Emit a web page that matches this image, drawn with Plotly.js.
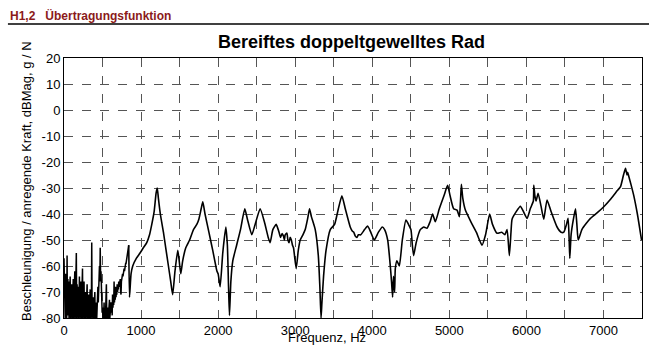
<!DOCTYPE html>
<html>
<head>
<meta charset="utf-8">
<script src="https://cdn.plot.ly/plotly-3.0.1.min.js"></script>
<style>html,body{margin:0;padding:0;background:#fff;}#chart{width:649px;height:345px;}</style>
</head>
<body>
<div id="chart"></div>
<script>
// Low-frequency noisy part (Hz, dB)
const freqLow = [0,5,10,15,20,25,30,35,40,45,50,55,60,65,70,75,80,85,90,95,100,105,110,115,120,125,130,135,140,145,150,155,160,165,170,175,180,185,190,195,200,205,210,215,220,225,230,235,240,245,250,255,260,265,270,275,280,285,290,295,300,305,310,315,320,325,330,335,340,345,350,355,360,365,370,375,380,385,390,395,400,405,410,415,420,425,430,435,440,445,450,455,460,465,470,475,480,485,490,495,500,505,510,515,520,525,530,535,540,545,550,555,560,565,570,575,580,585,590,595,600,605,610,615,620,625,630,635,640,645,650,655,660,665,670,675,680,685,690,695,700,705,710,715,720,725,730,735,740,745,750,755,760,765,770,775,780,785,790,795,800,805,810,815,820,825,830,835,840];
const magLow = [-57,-74,-66,-80,-63,-77,-68,-80,-56,-79,-65,-78,-66,-80,-69,-77,-64,-80,-70,-76,-67,-80,-68,-78,-65,-80,-71,-77,-62,-80,-69,-78,-55,-80,-67,-76,-68,-80,-70,-77,-64,-80,-69,-78,-66,-80,-71,-77,-61,-80,-68,-79,-66,-80,-72,-77,-70,-80,-68,-78,-67,-80,-72,-76,-71,-80,-70,-78,-69,-80,-73,-78,-51,-80,-72,-79,-72,-80,-74,-77,-70,-80,-75,-79,-74,-80,-72,-78,-68,-74,-63,-70,-60,-66,-53,-64,-62,-68,-70,-78,-76,-80,-78,-80,-74,-80,-77,-80,-78,-72,-67,-80,-77,-80,-76,-80,-78,-74,-73,-80,-76,-79,-74,-78,-75,-79,-71,-76,-73,-75,-66,-74,-71,-73,-68,-72,-69,-71,-67,-70,-68,-69,-66,-68,-67,-66,-65,-70,-71,-66,-64,-65,-63,-64,-62,-63,-61,-62,-60,-60,-59,-59,-58,-57,-56,-55,-54,-53,-52];
// Resonance part (Hz, dB)
const freqHigh = [840,850,870,892,940,987,1030,1074,1110,1139,1170,1195,1210,1225,1250,1290,1320,1355,1385,1410,1440,1476,1495,1515,1540,1580,1630,1680,1723,1750,1780,1801,1830,1880,1930,1970,1985,2000,2026,2060,2100,2120,2135,2147,2165,2190,2240,2290,2346,2380,2437,2480,2545,2600,2650,2675,2710,2753,2790,2810,2830,2848,2860,2870,2892,2905,2920,2935,2950,2965,2978,3013,3040,3065,3100,3130,3160,3186,3210,3260,3300,3320,3335,3345,3368,3400,3455,3511,3560,3606,3650,3714,3740,3760,3780,3801,3820,3850,3900,3940,3980,4026,4080,4130,4160,4200,4234,4250,4264,4275,4290,4299,4320,4351,4390,4437,4470,4502,4520,4537,4570,4623,4670,4710,4750,4783,4818,4870,4930,4978,5010,5056,5100,5130,5145,5156,5175,5208,5280,5350,5424,5470,5523,5560,5619,5680,5720,5749,5779,5800,5814,5870,5922,5960,6009,6050,6090,6096,6110,6126,6152,6190,6225,6268,6320,6398,6450,6485,6520,6541,6555,6563,6580,6610,6637,6655,6672,6720,6780,6831,6920,7004,7100,7180,7221,7260,7286,7305,7315,7329,7360,7394,7440,7494];
const magHigh = [-52,-72,-63,-60,-57,-55,-53,-51,-48,-44,-39,-32,-30,-34,-40,-47,-53,-60,-66,-71,-62,-54,-58,-63,-58,-53,-50,-46,-44,-42,-38,-35.3,-40,-47,-54,-60,-62,-63,-68,-55,-45,-52,-68,-79,-66,-58,-52,-46,-38,-42,-48,-44,-38,-43,-49,-51,-46,-44,-47,-49,-47.5,-48.5,-50,-48,-47.3,-50,-51,-49,-50,-52,-53,-61,-54,-50,-48,-46,-42,-38,-41,-46,-56,-68,-80,-75,-64,-54,-46,-44,-38,-33,-38,-45,-46.5,-47,-48.5,-49,-48,-48,-46,-44.6,-47,-50,-47,-45,-46,-50,-60,-66,-72,-64,-70,-61,-58,-60,-50,-42.3,-44,-46,-52,-56,-51,-46,-45,-45.5,-43,-40,-43,-38,-33,-29,-33,-38,-38.5,-41,-35,-28.6,-34,-38.5,-43,-47,-52,-48,-40,-44,-47.4,-47,-48,-46,-56,-47,-42,-39,-37,-39,-41.7,-38,-35,-29,-33,-35,-32,-37,-42,-34.6,-39,-45,-47,-47,-44,-41.7,-50,-57,-48,-42,-38,-44,-50,-46,-43.5,-41.7,-39.5,-37.2,-34,-31,-29.5,-25,-22.4,-25,-24,-25.6,-29,-33,-40,-50];

const yTickVals = [20,10,0,-10,-20,-30,-40,-50,-60,-70,-80];
const yTickText = ['20','10','0','-10','-20','-30','-40','-50','-60','-70','-80'];
const xTickVals = [0,1000,2000,3000,4000,5000,6000,7000];
const xTickText = ['0','1000','2000','3000','4000','5000','6000','7000'];

const traces = [
  {x: freqLow, y: magLow, type: 'scatter', mode: 'lines',
   line: {color: '#000', width: 1.5}, hoverinfo: 'skip'},
  {x: freqHigh, y: magHigh, type: 'scatter', mode: 'lines',
   line: {color: '#000', width: 1.6, shape: 'spline', smoothing: 0.5}, hoverinfo: 'skip'}
];

const gridStyle = {gridcolor: '#555', griddash: 'dash', gridwidth: 1};
const layout = {
  width: 649, height: 345,
  margin: {l: 64, r: 7, t: 58, b: 27},
  paper_bgcolor: '#fff', plot_bgcolor: '#fff',
  showlegend: false,
  font: {family: 'Liberation Sans, Arial, sans-serif', size: 13, color: '#000'},
  xaxis: Object.assign({range: [0, 7500], tickvals: xTickVals, ticktext: xTickText,
    showline: true, linecolor: '#000', linewidth: 1, mirror: true, zeroline: false,
    ticks: '', tickfont: {size: 13}, showgrid: true,
    minor: {dtick: 500, tick0: 0, showgrid: true, gridcolor: '#555', griddash: 'dash', gridwidth: 1}}, gridStyle),
  yaxis: Object.assign({range: [-80, 20], tickvals: yTickVals, ticktext: yTickText,
    showline: true, linecolor: '#000', linewidth: 1, mirror: true, zeroline: false,
    ticks: '', tickfont: {size: 13}, showgrid: true}, gridStyle),
  shapes: [{type: 'line', xref: 'paper', yref: 'paper', x0: -0.097, x1: 1.02, y0: 1.131, y1: 1.131,
    line: {color: '#000', width: 1.5}}],
  annotations: [
    {text: '<b>H1,2   Übertragungsfunktion</b>', xref: 'paper', yref: 'paper', x: -0.097, y: 1.162,
     xanchor: 'left', yanchor: 'middle', showarrow: false, font: {size: 12, color: '#8b1a1a'}},
    {text: '<b>Bereiftes doppeltgewelltes Rad</b>', xref: 'paper', yref: 'paper', x: 0.498, y: 1.062,
     xanchor: 'center', yanchor: 'middle', showarrow: false, font: {size: 18, color: '#000'}},
    {text: 'Beschleunigung / anregende Kraft, dBMag, g / N', xref: 'paper', yref: 'paper', x: -0.064, y: 0.527,
     xanchor: 'center', yanchor: 'middle', textangle: -90, showarrow: false, font: {size: 13, color: '#000'}},
    {text: 'Frequenz, Hz', xref: 'paper', yref: 'paper', x: 0.455, y: -0.076,
     xanchor: 'center', yanchor: 'middle', showarrow: false, font: {size: 13, color: '#000'}}
  ]
};
Plotly.newPlot('chart', traces, layout, {displayModeBar: false, staticPlot: true});
</script>
</body>
</html>
